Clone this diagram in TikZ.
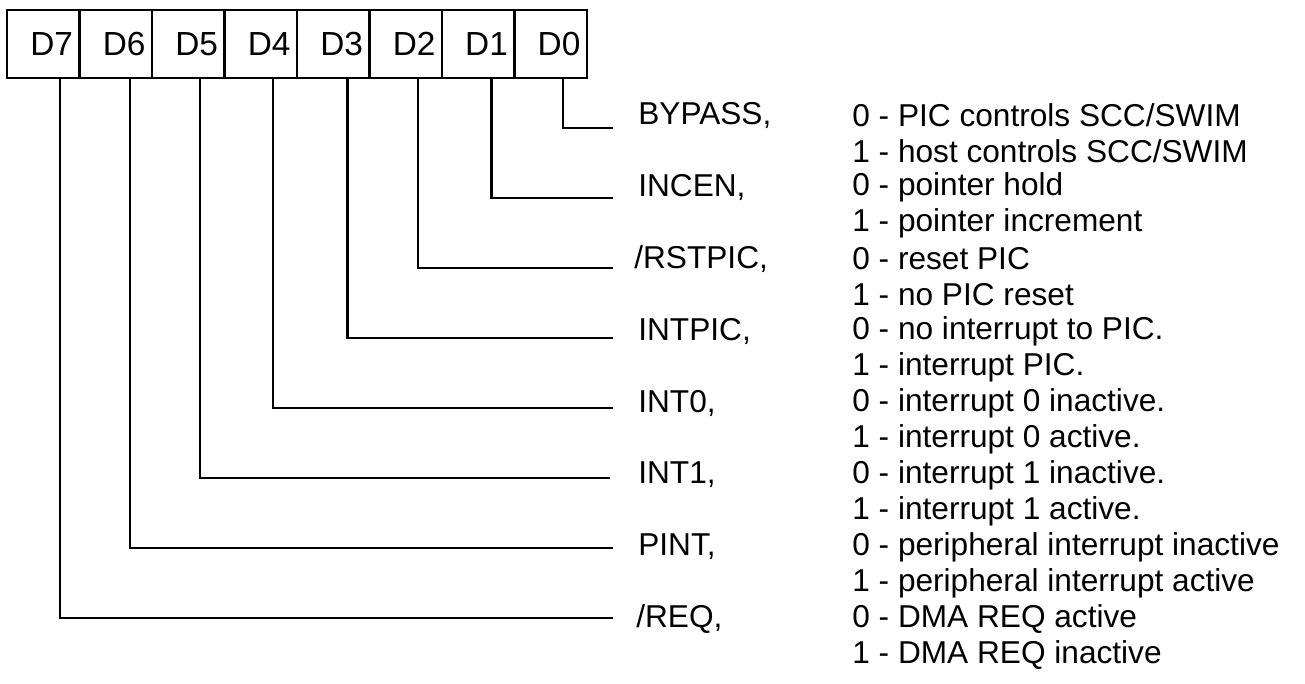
\documentclass[tikz,border=0pt]{standalone}
\usepackage{fontspec}
\setmainfont{Liberation Sans}
\usetikzlibrary{positioning,calc}

\begin{document}
\begin{tikzpicture}[
    x=0.02cm, y=-0.02cm,
    bit/.style={rectangle, draw, line width=1.3pt, outer sep=0pt, minimum height=1.36cm, text width=1.19cm, inner xsep=0.13cm, align=right, font=\fontsize{19}{21}\selectfont},
    sig/.style={anchor=west, inner sep=0pt, font=\fontsize{18}{20}\selectfont},
    val/.style={anchor=west, inner sep=0pt, font=\fontsize{18}{20}\selectfont},
    wire/.style={line width=1.4pt}
  ]
    \useasboundingbox (0,0) rectangle (1305,683);
    % register bits
    \node[bit] (d7) at (43.25,44) {D7};
    \node[bit, right=0pt of d7] (d6) {D6};
    \node[bit, right=0pt of d6] (d5) {D5};
    \node[bit, right=0pt of d5] (d4) {D4};
    \node[bit, right=0pt of d4] (d3) {D3};
    \node[bit, right=0pt of d3] (d2) {D2};
    \node[bit, right=0pt of d2] (d1) {D1};
    \node[bit, right=0pt of d1] (d0) {D0};
    % ends of the leads
    \coordinate (e0) at (613,128);
    \coordinate (e1) at (613,198);
    \coordinate (e2) at (613,268);
    \coordinate (e3) at (613,338);
    \coordinate (e4) at (613,408);
    \coordinate (e5) at (610,478);
    \coordinate (e6) at (613,548);
    \coordinate (e7) at (613,618);
    % signal names
    \node[sig] (s0) at (638,115) {BYPASS,};
    \node[sig] (s1) at (638,187) {INCEN,};
    \node[sig] (s2) at (634,259) {/RSTPIC,};
    \node[sig] (s3) at (638,331) {INTPIC,};
    \node[sig] (s4) at (638,403) {INT0,};
    \node[sig] (s5) at (638,475) {INT1,};
    \node[sig] (s6) at (638,547) {PINT,};
    \node[sig] (s7) at (636,619) {/REQ,};
    % meanings
    \node[val] (v0a) at (852,115) {0 - PIC controls SCC/SWIM};
    \node[val] (v0b) at (852,151) {1 - host controls SCC/SWIM};
    \node[val] (v1a) at (852,187) {0 - pointer hold};
    \node[val] (v1b) at (852,223) {1 - pointer increment};
    \node[val] (v2a) at (852,259) {0 - reset PIC};
    \node[val] (v2b) at (852,295) {1 - no PIC reset};
    \node[val] (v3a) at (852,331) {0 - no interrupt to PIC.};
    \node[val] (v3b) at (852,367) {1 - interrupt PIC.};
    \node[val] (v4a) at (852,403) {0 - interrupt 0 inactive.};
    \node[val] (v4b) at (852,439) {1 - interrupt 0 active.};
    \node[val] (v5a) at (852,475) {0 - interrupt 1 inactive.};
    \node[val] (v5b) at (852,511) {1 - interrupt 1 active.};
    \node[val] (v6a) at (852,547) {0 - peripheral interrupt inactive};
    \node[val] (v6b) at (852,583) {1 - peripheral interrupt active};
    \node[val] (v7a) at (852,619) {0 - DMA REQ active};
    \node[val] (v7b) at (852,655) {1 - DMA REQ inactive};
    % leads
    \draw[wire] ([xshift=.25cm]d0.south) |- (e0);
    \draw[wire] ([xshift=.27cm]d1.south) |- (e1);
    \draw[wire] ([xshift=.25cm]d2.south) |- (e2);
    \draw[wire] ([xshift=.29cm]d3.south) |- (e3);
    \draw[wire] ([xshift=.25cm]d4.south) |- (e4);
    \draw[wire] ([xshift=.24cm]d5.south) |- (e5);
    \draw[wire] ([xshift=.28cm]d6.south) |- (e6);
    \draw[wire] ([xshift=.33cm]d7.south) |- (e7);
\end{tikzpicture}
\end{document}
